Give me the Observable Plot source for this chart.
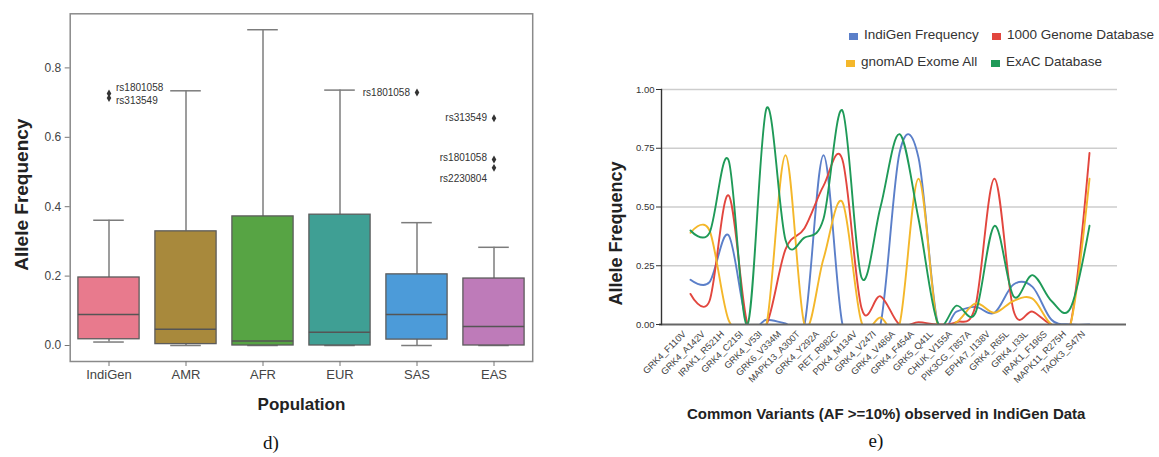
<!DOCTYPE html>
<html><head><meta charset="utf-8">
<script src="https://cdn.jsdelivr.net/npm/d3@7"></script>
<script src="https://cdn.jsdelivr.net/npm/@observablehq/plot@0.6"></script>
<style>
html,body{margin:0;padding:0;background:#fff;}
#root{position:relative;width:1159px;height:457px;overflow:hidden;font-family:"Liberation Sans",Arial,sans-serif;}
.panel{position:absolute;top:0;}
.cap{position:absolute;font-family:"Liberation Serif","Times New Roman",serif;font-size:19px;color:#111;transform:translate(-50%,-50%);}
.leg{position:absolute;font-size:13.5px;color:#333;line-height:16px;white-space:nowrap;display:flex;align-items:center;}
.sw{display:inline-block;width:9px;height:7px;margin-right:6px;margin-top:3px;}
</style></head><body><div id="root"></div>
<script>
// ---------- Panel d) data ----------
const populations = ["IndiGen","AMR","AFR","EUR","SAS","EAS"];
const q1Values      = [0.018,0.004,0.000,0.000,0.017,0.000];
const medianValues  = [0.089,0.047,0.013,0.038,0.089,0.055];
const q3Values      = [0.196,0.329,0.372,0.377,0.205,0.193];
const whiskerLow    = [0.010,0.000,0.000,0.000,0.000,0.000];
const whiskerHigh   = [0.361,0.734,0.910,0.736,0.354,0.283];
const outlierPops   = ["IndiGen","IndiGen","SAS","EAS","EAS","EAS"];
const outlierValues = [0.726,0.713,0.729,0.655,0.536,0.512];
const outlierLabels = ["rs1801058","rs313549","rs1801058","rs313549","rs1801058","rs2230804"];
const boxColors = ["#e87a8d","#a8893c","#57a444","#3f9f94","#4c9bd9","#be7bb9"];

// ---------- Panel e) data ----------
const variants = ["GRK4_F110V","GRK4_A142V","IRAK1_R521H","GRK4_C215I","GRK4_V53I","GRK6_V334M","MAPK13_A300T","GRK4_Y292A","RET_R982C","PDK4_M134V","GRK4_V247I","GRK4_V486A","GRK4_F454A","GRK5_Q41L","CHUK_V155A","PIK3CG_T857A","EPHA7_I138V","GRK4_R65L","GRK4_I33L","IRAK1_F196S","MAPK11_R275H","TAOK3_S47N"];
const seriesNames = ["IndiGen Frequency","1000 Genome Database","gnomAD Exome All","ExAC Database"];
const indigenFreq  = [0.19,0.18,0.38,0.00,0.02,0.005,0.00,0.72,0.00,0.00,0.00,0.73,0.71,0.01,0.055,0.075,0.05,0.17,0.16,0.02,0.00,0.00];
const genome1000   = [0.13,0.10,0.55,0.00,0.00,0.32,0.41,0.59,0.70,0.07,0.12,0.00,0.01,0.00,0.01,0.08,0.62,0.06,0.055,0.00,0.00,0.73];
const gnomadExome  = [0.39,0.40,0.02,0.00,0.00,0.72,0.00,0.28,0.52,0.01,0.03,0.00,0.62,0.00,0.01,0.09,0.05,0.10,0.11,0.00,0.00,0.62];
const exacDatabase = [0.40,0.39,0.70,0.00,0.92,0.36,0.37,0.45,0.91,0.20,0.50,0.81,0.45,0.01,0.08,0.05,0.42,0.12,0.21,0.10,0.07,0.42];
const lineColors = ["#5b7fc9","#e2463e","#f4b72a","#1f9a58"];

const root = document.getElementById("root");
const FONT = "Liberation Sans, Arial, sans-serif";

// ---------- Panel d) ----------
const boxes = populations.map((p,i)=>({pop:p,q1:q1Values[i],med:medianValues[i],q3:q3Values[i],lo:whiskerLow[i],hi:whiskerHigh[i]}));
const outliers = outlierPops.map((p,i)=>({pop:p,value:outlierValues[i],label:outlierLabels[i]}));
// label vertical nudges (data units) so stacked labels don't overlap
const labelShift = [0.018,-0.009,0,0,0.005,-0.031];
const rightSide = outliers.filter(d=>d.pop==="IndiGen");
const leftSide = outliers.filter(d=>d.pop!=="IndiGen");
const shiftOf = d => labelShift[outliers.indexOf(d)];
const whisk = {stroke:"#7c7c7c",strokeWidth:1.5};

const left = Plot.plot({
  width:560,height:457,
  marginLeft:69.7,marginRight:27.8,marginTop:13.3,marginBottom:96,
  style:{fontFamily:FONT,background:"transparent",color:"#444"},
  x:{type:"band",domain:populations,padding:0},
  y:{domain:[-0.0461,0.9559]},
  color:{domain:populations,range:boxColors},
  marks:[
    Plot.ruleX(boxes,{x:"pop",y1:"q3",y2:"hi",...whisk}),
    Plot.ruleX(boxes,{x:"pop",y1:"lo",y2:"q1",...whisk}),
    Plot.tickY(boxes,{x:"pop",y:"hi",insetLeft:23.2,insetRight:23.2,...whisk}),
    Plot.tickY(boxes,{x:"pop",y:"lo",insetLeft:23.2,insetRight:23.2,...whisk}),
    Plot.barY(boxes,{x:"pop",y1:"q1",y2:"q3",fill:"pop",stroke:"#5c5c5c",strokeWidth:1.3,insetLeft:7.9,insetRight:7.9}),
    Plot.tickY(boxes,{x:"pop",y:"med",insetLeft:7.9,insetRight:7.9,stroke:"#555",strokeWidth:1.5}),
    Plot.dot(outliers,{x:"pop",y:"value",symbol:"diamond",r:2.4,fill:"#333",stroke:null}),
    Plot.text(rightSide,{x:"pop",y:d=>d.value+shiftOf(d),text:"label",textAnchor:"start",dx:7,fontSize:10,fill:"#333"}),
    Plot.text(leftSide,{x:"pop",y:d=>d.value+shiftOf(d),text:"label",textAnchor:"end",dx:-7,fontSize:10,fill:"#333"}),
    Plot.frame({stroke:"#8a8a8a",strokeWidth:1.5}),
    Plot.axisY({ticks:[0,0.2,0.4,0.6,0.8],tickFormat:d3.format(".1f"),tickSize:5,tickPadding:4,fontSize:12,label:null,stroke:"#777"}),
    Plot.axisX({tickSize:5,tickPadding:3,fontSize:13,label:null,stroke:"#777"}),
    Plot.text(["Allele Frequency"],{frameAnchor:"left",textAnchor:"middle",lineAnchor:"middle",dx:-48.3,dy:7,rotate:-90,fontSize:19,fontWeight:"bold",fill:"#222"}),
    Plot.text(["Population"],{frameAnchor:"bottom",textAnchor:"middle",lineAnchor:"middle",dy:43,fontSize:17,fontWeight:"bold",fill:"#222"})
  ]
});
left.classList.add("panel");
left.style.left = "0px";
root.appendChild(left);

// ---------- Panel e) ----------
const seriesValues = [indigenFreq,genome1000,gnomadExome,exacDatabase];
const rows = seriesNames.flatMap((s,k)=>variants.map((v,i)=>({variant:v,source:s,value:seriesValues[k][i]})));

const right = Plot.plot({
  width:579,height:457,
  marginLeft:81,marginRight:42,marginTop:89,marginBottom:133,
  style:{fontFamily:FONT,background:"transparent",color:"#333"},
  x:{type:"point",domain:variants,range:[93,526]},
  y:{domain:[0,1]},
  color:{domain:seriesNames,range:lineColors},
  marks:[
    Plot.ruleY([0.25,0.5,0.75,1],{stroke:"#cdcdcd",strokeWidth:1.6}),
    Plot.line(rows,{x:"variant",y:"value",z:"source",stroke:"source",curve:"cardinal",strokeWidth:1.9,clip:true}),
    Plot.ruleY([0],{stroke:"#666",strokeWidth:2,insetLeft:-2,insetRight:-9}),
    Plot.frame({anchor:"left",stroke:"#333",strokeWidth:1.4}),
    Plot.axisY({ticks:[0,0.25,0.5,0.75,1],tickFormat:d3.format(".2f"),tickSize:5,tickPadding:2,fontSize:9.5,label:null,stroke:"#333"}),
    Plot.axisX({tickSize:0,tickPadding:8,tickRotate:-45,dx:-6,fontSize:9.2,label:null,fill:"#444"}),
    Plot.text(["Allele Frequency"],{frameAnchor:"left",textAnchor:"middle",lineAnchor:"middle",dx:-45,dy:26.5,rotate:-90,fontSize:18,fontWeight:"bold",fill:"#222"}),
    Plot.text(["Common Variants (AF >=10%) observed in IndiGen Data"],{frameAnchor:"bottom",textAnchor:"middle",lineAnchor:"middle",dx:-3.3,dy:89.3,fontSize:15,fontWeight:"bold",fill:"#222"})
  ]
});
right.classList.add("panel");
right.style.left = "580px";
root.appendChild(right);

// ---------- Legend for e) ----------
const legendPos = [[849,35],[992,35],[846,62],[991,62]];
seriesNames.forEach((s,k)=>{
  const d = document.createElement("div");
  d.className = "leg";
  d.style.left = legendPos[k][0]+"px";
  d.style.top = (legendPos[k][1]-8)+"px";
  d.innerHTML = `<span class="sw" style="background:${lineColors[k]}"></span>${s}`;
  root.appendChild(d);
});

// ---------- Captions ----------
[["d)",271,443],["e)",876,441]].forEach(([t,x,y])=>{
  const c = document.createElement("div");
  c.className = "cap"; c.textContent = t;
  c.style.left = x+"px"; c.style.top = y+"px";
  root.appendChild(c);
});
</script></body></html>
